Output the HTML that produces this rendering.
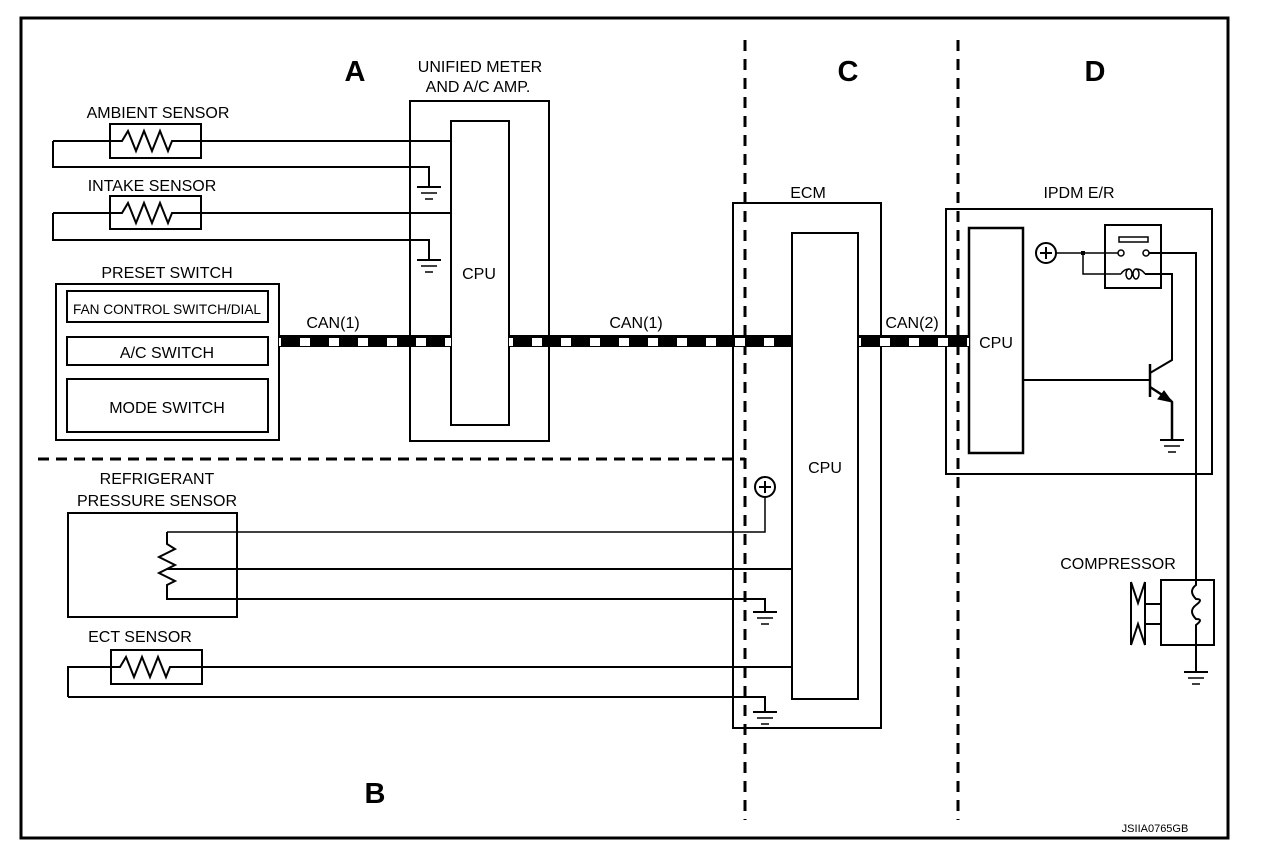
<!DOCTYPE html>
<html><head><meta charset="utf-8"><style>
html,body{margin:0;padding:0;background:#fff;}
svg{display:block;}
text{font-family:"Liberation Sans",Arial,sans-serif;fill:#000;}
</style></head><body>
<svg width="1264" height="864" viewBox="0 0 1264 864" xmlns="http://www.w3.org/2000/svg">
<defs>
<pattern id="can" x="0" y="0" width="29" height="12" patternUnits="userSpaceOnUse">
<rect x="0" y="0" width="29" height="12" fill="#000"/>
<rect x="10" y="2" width="10" height="8" fill="#fff"/>
</pattern>
<g id="gnd"><line x1="-12" y1="0" x2="12" y2="0" stroke="#000" stroke-width="2"/><line x1="-8" y1="6" x2="8" y2="6" stroke="#000" stroke-width="1.5"/><line x1="-4" y1="12" x2="4" y2="12" stroke="#000" stroke-width="1.5"/></g>
</defs>
<rect x="0" y="0" width="1264" height="864" fill="#fff"/>
<rect x="21" y="18" width="1207" height="820" fill="none" stroke="#000" stroke-width="3"/>

<g stroke="#000" fill="none">
<line x1="745" y1="40" x2="745" y2="820" stroke-width="3" stroke-dasharray="11,8"/>
<line x1="958" y1="40" x2="958" y2="820" stroke-width="3" stroke-dasharray="11,8"/>
<line x1="38" y1="459" x2="745" y2="459" stroke-width="3" stroke-dasharray="11,7"/>

<rect x="410" y="101" width="139" height="340" stroke-width="2"/>
<rect x="451" y="121" width="58" height="304" stroke-width="2"/>

<rect x="110" y="124" width="91" height="34" stroke-width="2"/>
<polyline points="53,141 122,141 128,131 136,151 144,131 152,151 160,131 168,151 172,141 451,141" stroke-width="2"/>
<polyline points="53,141 53,167 429,167 429,187" stroke-width="2"/>
<use href="#gnd" x="429" y="187"/>
<rect x="110" y="196" width="91" height="33" stroke-width="2"/>
<polyline points="53,213 122,213 128,203 136,223 144,203 152,223 160,203 168,223 172,213 451,213" stroke-width="2"/>
<polyline points="53,213 53,240 429,240 429,260" stroke-width="2"/>
<use href="#gnd" x="429" y="260"/>

<rect x="56" y="284" width="223" height="156" stroke-width="2"/>
<rect x="67" y="291" width="201" height="31" stroke-width="2"/>
<rect x="67" y="337" width="201" height="28" stroke-width="2"/>
<rect x="67" y="379" width="201" height="53" stroke-width="2"/>

<rect x="733" y="203" width="148" height="525" stroke-width="2"/>
<rect x="792" y="233" width="66" height="466" stroke-width="2"/>

<rect x="946" y="209" width="266" height="265" stroke-width="2"/>
<rect x="969" y="228" width="54" height="225" stroke-width="2.5"/>
<circle cx="1046" cy="253" r="10" stroke-width="2"/>
<line x1="1040" y1="253" x2="1052" y2="253" stroke-width="2"/>
<line x1="1046" y1="247" x2="1046" y2="259" stroke-width="2"/>
<line x1="1056" y1="253" x2="1118" y2="253" stroke-width="1.5"/>
<rect x="1081" y="251" width="4" height="4" fill="#000" stroke="none"/>
<rect x="1105" y="225" width="56" height="63" stroke-width="2"/>
<rect x="1119" y="237" width="29" height="5" stroke-width="1.5"/>
<circle cx="1121" cy="253" r="3" stroke-width="1.5"/>
<circle cx="1146" cy="253" r="3" stroke-width="1.5"/>
<polyline points="1083,253 1083,274 1121,274" stroke-width="1.5"/>
<ellipse cx="1129" cy="274" rx="3" ry="5" stroke-width="1.5"/>
<ellipse cx="1136" cy="274" rx="3" ry="5" stroke-width="1.5"/>
<path d="M1121,274 q3,-5 8,-5 M1136,269 q6,0 9,5" stroke-width="1.5"/>
<polyline points="1145,274 1172,274 1172,360 1150,373" stroke-width="2"/>
<polyline points="1149,253 1196,253 1196,580" stroke-width="2"/>
<line x1="1023" y1="380" x2="1150" y2="380" stroke-width="2"/>
<line x1="1150" y1="364" x2="1150" y2="397" stroke-width="2.5"/>
<polyline points="1150,387 1170,400 1172,402 1172,440" stroke-width="2.5"/>
<polygon points="1172,402 1158,399 1164,391" fill="#000" stroke-width="1"/>
<use href="#gnd" x="1172" y="440"/>

<rect x="1161" y="580" width="53" height="65" stroke-width="2"/>
<polyline points="1131,582 1131,645" stroke-width="2"/>
<polyline points="1145,582 1145,645" stroke-width="2"/>
<polyline points="1131,582 1138,603 1145,582" stroke-width="2"/>
<polyline points="1131,645 1138,624 1145,645" stroke-width="2"/>
<line x1="1145" y1="604" x2="1161" y2="604" stroke-width="2"/>
<line x1="1145" y1="624" x2="1161" y2="624" stroke-width="2"/>
<path d="M1196,580 v5 q-8,6 0,14 q8,0 0,6 q-8,6 0,14 q8,0 0,6 v20 " stroke-width="2"/>
<line x1="1196" y1="645" x2="1196" y2="672" stroke-width="2"/>
<use href="#gnd" x="1196" y="672"/>

<rect x="68" y="513" width="169" height="104" stroke-width="2"/>
<polyline points="167,532 765,532 765,498" stroke-width="1.5"/>
<circle cx="765" cy="487" r="10" stroke-width="2"/>
<line x1="759" y1="487" x2="771" y2="487" stroke-width="2"/>
<line x1="765" y1="481" x2="765" y2="493" stroke-width="2"/>
<polyline points="167,532 167,544 175,549 159,557 175,565 159,573 175,581 167,585 167,599 765,599 765,612" stroke-width="2"/>
<line x1="167" y1="569" x2="792" y2="569" stroke-width="2"/>
<use href="#gnd" x="765" y="612"/>

<rect x="111" y="650" width="91" height="34" stroke-width="2"/>
<polyline points="68,697 68,667 120,667 126,657 134,677 142,657 150,677 158,657 166,677 170,667 792,667" stroke-width="2"/>
<polyline points="68,697 765,697 765,712" stroke-width="2"/>
<use href="#gnd" x="765" y="712"/>
</g>

<rect x="279" y="335" width="172" height="12" fill="url(#can)"/>
<rect x="509" y="335" width="283" height="12" fill="url(#can)"/>
<rect x="859" y="335" width="110" height="12" fill="url(#can)"/>

<g font-size="29" font-weight="bold" text-anchor="middle">
<text x="355" y="81">A</text><text x="375" y="803">B</text><text x="848" y="81">C</text><text x="1095" y="81">D</text>
</g>
<g font-size="16" text-anchor="middle">
<text x="480" y="72">UNIFIED METER</text>
<text x="478" y="92">AND A/C AMP.</text>
<text x="158" y="118">AMBIENT SENSOR</text>
<text x="152" y="191">INTAKE SENSOR</text>
<text x="167" y="278">PRESET SWITCH</text>
<text x="167" y="314" font-size="14" textLength="188" lengthAdjust="spacingAndGlyphs">FAN CONTROL SWITCH/DIAL</text>
<text x="167" y="358">A/C SWITCH</text>
<text x="167" y="413">MODE SWITCH</text>
<text x="479" y="279">CPU</text>
<text x="825" y="473">CPU</text>
<text x="996" y="348">CPU</text>
<text x="808" y="198">ECM</text>
<text x="1079" y="198">IPDM E/R</text>
<text x="333" y="328">CAN(1)</text>
<text x="636" y="328">CAN(1)</text>
<text x="912" y="328">CAN(2)</text>
<text x="157" y="484">REFRIGERANT</text>
<text x="157" y="506">PRESSURE SENSOR</text>
<text x="140" y="642">ECT SENSOR</text>
<text x="1118" y="569">COMPRESSOR</text>
<text x="1155" y="832" font-size="11">JSIIA0765GB</text>
</g>
</svg>
</body></html>
